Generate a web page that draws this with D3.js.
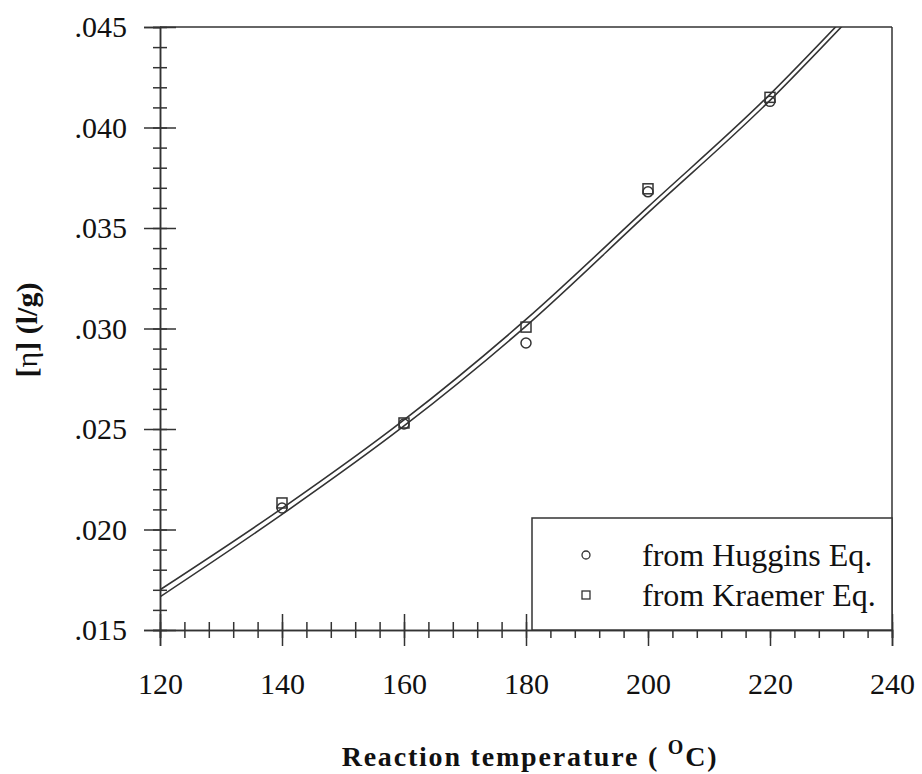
<!DOCTYPE html>
<html>
<head>
<meta charset="utf-8">
<script src="https://cdn.jsdelivr.net/npm/d3@7"></script>
<style>
  html, body { margin: 0; padding: 0; background: #fff; }
  svg { display: block; font-family: "Liberation Serif", "Times New Roman", serif; }
</style>
</head>
<body>
<svg id="chart" width="922" height="774"></svg>
<script>
// measured points
const temps     = [140, 160, 180, 200, 220];
const huggins   = [0.02107, 0.02525, 0.02928, 0.03680, 0.04130];
const kraemer   = [0.02132, 0.02530, 0.03007, 0.03695, 0.04150];

// fitted curves
const fitTemps  = [120, 140, 160, 180, 200, 220, 232];
const fitUpper  = [0.01700, 0.02105, 0.02545, 0.03045, 0.03605, 0.04165, 0.04540];
const fitLower  = [0.01665, 0.02075, 0.02515, 0.03012, 0.03575, 0.04135, 0.04510];

const xTicks    = [120, 140, 160, 180, 200, 220, 240];
const yTicks    = [0.015, 0.020, 0.025, 0.030, 0.035, 0.040, 0.045];
const legendLabels = ['from Huggins Eq.', 'from Kraemer Eq.'];

const svg = d3.select('#chart');
const ink = '#333';
const serif = '"Liberation Serif", "Times New Roman", serif';
const margin = { left: 160, right: 30, top: 27, bottom: 144 };
const W = 922, H = 774;

const x = d3.scaleLinear().domain([120, 240]).range([margin.left, W - margin.right]);
const y = d3.scaleLinear().domain([0.015, 0.045]).range([H - margin.bottom, margin.top]);

// clip for curves
svg.append('clipPath').attr('id', 'plot')
  .append('rect')
  .attr('x', x(120)).attr('y', y(0.045))
  .attr('width', x(240) - x(120)).attr('height', y(0.015) - y(0.045));

// frame: top + right
svg.append('line')
  .attr('x1', x(120)).attr('x2', x(240)).attr('y1', y(0.045)).attr('y2', y(0.045))
  .attr('stroke', ink).attr('stroke-width', 1.5);
svg.append('line')
  .attr('x1', x(240)).attr('x2', x(240)).attr('y1', y(0.045)).attr('y2', y(0.015))
  .attr('stroke', ink).attr('stroke-width', 1.5);

// ---------- x axis ----------
const gxMinor = svg.append('g')
  .attr('transform', `translate(0,${y(0.015)})`)
  .call(d3.axisBottom(x).tickValues(d3.range(120, 241, 4)).tickSize(8).tickFormat(''));
gxMinor.selectAll('.tick line').attr('y1', -8).attr('y2', 8);

const gx = svg.append('g')
  .attr('transform', `translate(0,${y(0.015)})`)
  .call(d3.axisBottom(x).tickValues(xTicks).tickSize(16).tickFormat(d3.format('d')));
gx.selectAll('.tick line').attr('y1', -16).attr('y2', 16);
gx.selectAll('.tick text')
  .attr('y', 64).attr('dy', 0)
  .style('font-size', '30px').style('font-family', serif)
  .attr('fill', '#111');

// ---------- y axis ----------
const gyMinor = svg.append('g')
  .attr('transform', `translate(${x(120)},0)`)
  .call(d3.axisLeft(y).tickValues(d3.range(15, 46, 1).map(v => v / 1000)).tickSize(7).tickFormat(''));
gyMinor.selectAll('.tick line').attr('x1', -7).attr('x2', 7);

const gy = svg.append('g')
  .attr('transform', `translate(${x(120)},0)`)
  .call(d3.axisLeft(y).tickValues(yTicks).tickSize(16).tickFormat(d => d3.format('.3f')(d).replace(/^0/, '')));
gy.selectAll('.tick line').attr('x1', -16).attr('x2', 16);
gy.selectAll('.tick text')
  .attr('x', -33).attr('dy', '0.33em')
  .style('font-size', '30px').style('font-family', serif)
  .attr('fill', '#111');

svg.selectAll('.domain').attr('stroke', ink).attr('stroke-width', 1.5);
svg.selectAll('.tick line').attr('stroke', ink).attr('stroke-width', 1.5);

// ---------- fitted curves ----------
const line = d3.line().curve(d3.curveMonotoneX);
[fitUpper, fitLower].forEach(vals => {
  svg.append('path')
    .attr('clip-path', 'url(#plot)')
    .attr('d', line(fitTemps.map((t, i) => [x(t), y(vals[i])])))
    .attr('fill', 'none').attr('stroke', ink).attr('stroke-width', 1.6);
});

// ---------- markers ----------
svg.append('g').selectAll('circle')
  .data(temps.map((t, i) => [t, huggins[i]]))
  .join('circle')
  .attr('cx', d => x(d[0])).attr('cy', d => y(d[1])).attr('r', 5)
  .attr('fill', 'none').attr('stroke', ink).attr('stroke-width', 1.5);

svg.append('g').selectAll('rect')
  .data(temps.map((t, i) => [t, kraemer[i]]))
  .join('rect')
  .attr('x', d => x(d[0]) - 5).attr('y', d => y(d[1]) - 5)
  .attr('width', 10).attr('height', 10)
  .attr('fill', 'none').attr('stroke', ink).attr('stroke-width', 1.5);

// ---------- legend ----------
const lg = svg.append('g');
lg.append('rect')
  .attr('x', 532).attr('y', 518)
  .attr('width', x(240) - 532).attr('height', y(0.015) - 518)
  .attr('fill', '#fff').attr('stroke', ink).attr('stroke-width', 1.5);
lg.append('circle').attr('cx', 586).attr('cy', 555).attr('r', 4)
  .attr('fill', 'none').attr('stroke', ink).attr('stroke-width', 1.3);
lg.append('rect').attr('x', 582).attr('y', 591).attr('width', 8).attr('height', 8)
  .attr('fill', 'none').attr('stroke', ink).attr('stroke-width', 1.3);
lg.selectAll('text')
  .data(legendLabels)
  .join('text')
  .attr('x', 642).attr('y', (d, i) => 566 + i * 40)
  .style('font-size', '32px').style('font-family', serif).attr('fill', '#111')
  .text(d => d);

// ---------- axis titles ----------
const xt = svg.append('text')
  .attr('x', 530).attr('y', 766)
  .attr('text-anchor', 'middle')
  .style('font-size', '28px').style('font-weight', 'bold').style('letter-spacing', '1.8px')
  .style('font-family', serif).attr('fill', '#111');
xt.append('tspan').text('Reaction temperature ( ');
xt.append('tspan').attr('dy', -12).style('font-size', '20px').text('O');
xt.append('tspan').attr('dy', 12).text('C)');

const yt = svg.append('text')
  .attr('transform', 'translate(37,330) rotate(-90)')
  .attr('text-anchor', 'middle')
  .style('font-size', '30px').style('font-weight', 'bold')
  .style('font-family', serif).attr('fill', '#111');
yt.append('tspan').text('[');
yt.append('tspan').style('font-weight', 'normal').text('η');
yt.append('tspan').text('] (l/g)');
</script>
</body>
</html>
